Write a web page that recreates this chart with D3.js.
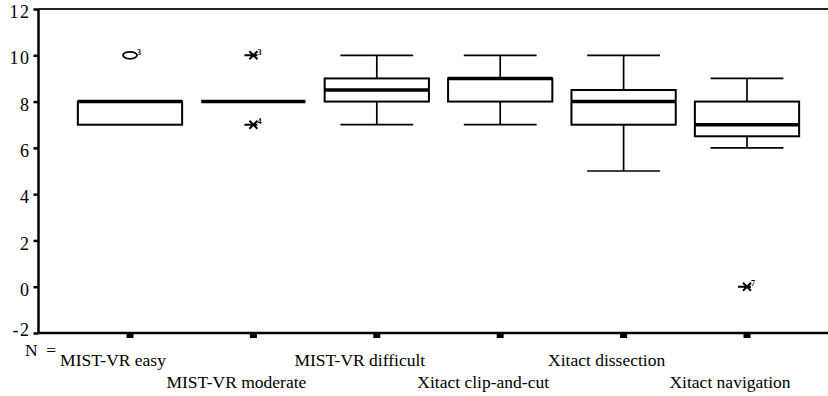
<!DOCTYPE html>
<html>
<head>
<meta charset="utf-8">
<script src="https://cdn.jsdelivr.net/npm/d3@7"></script>
<style>
  html, body { margin: 0; padding: 0; background: #fff; }
  svg { display: block; }
  svg text { font-family: 'Liberation Serif', 'Times New Roman', 'DejaVu Serif', serif; }
</style>
</head>
<body>
<div id="chart"></div>
<script>
// Box plot: scores per simulator task

const categories = ['MIST-VR easy', 'MIST-VR moderate', 'MIST-VR difficult',
    'Xitact clip-and-cut', 'Xitact dissection', 'Xitact navigation'];

// whisker low, Q1, median, Q3, whisker high
const whiskerLow = [7, 8, 7, 7, 5, 6];
const q1 = [7, 8, 8, 8, 7, 6.5];
const medians = [8, 8, 8.5, 9, 8, 7];
const q3 = [8, 8, 9, 9, 8.5, 8];
const whiskerHigh = [8, 8, 10, 10, 10, 9];

// outliers (o) and extremes (*) with case labels
const outliers = [
    { cat: 'MIST-VR easy', value: 10, type: 'o', label: '3' },
    { cat: 'MIST-VR moderate', value: 10, type: '*', label: '3' },
    { cat: 'MIST-VR moderate', value: 7, type: '*', label: '4' },
    { cat: 'Xitact navigation', value: 0, type: '*', label: '7' }
];

const yTicks = [-2, 0, 2, 4, 6, 8, 10, 12];

const width = 828, height = 396;
const serif = "'Liberation Serif', 'Times New Roman', 'DejaVu Serif', serif";

const svg = d3.select('#chart')
    .append('svg')
    .attr('width', width)
    .attr('height', height);

svg.append('rect').attr('width', width).attr('height', height).attr('fill', '#fff');

const y = d3.scaleLinear().domain([-2, 12]).range([333, 9]);
const x = d3.scaleBand().domain(categories).range([68.3, 808.7]).padding(0);

const boxW = x.bandwidth() * 0.845;
const capW = x.bandwidth() * 0.59;
const cx = c => x(c) + x.bandwidth() / 2;

// frame: top line, left axis, bottom axis
svg.append('line').attr('x1', 38.5).attr('x2', width).attr('y1', y(12)).attr('y2', y(12))
    .attr('stroke', '#222').attr('stroke-width', 2);
svg.append('line').attr('x1', 38.5).attr('x2', 38.5).attr('y1', y(12)).attr('y2', y(-2))
    .attr('stroke', '#000').attr('stroke-width', 2.5);
svg.append('line').attr('x1', 38.5).attr('x2', width).attr('y1', y(-2)).attr('y2', y(-2))
    .attr('stroke', '#000').attr('stroke-width', 2.5);

// y axis
const yAxis = d3.axisLeft(y).tickValues(yTicks).tickSize(5).tickPadding(3)
    .tickFormat(d => String(d));
const gy = svg.append('g').attr('transform', 'translate(38.5,0)').call(yAxis);
gy.attr('font-family', serif).attr('font-size', 18);
gy.select('.domain').remove();
gy.selectAll('.tick line').attr('stroke', '#000').attr('stroke-width', 2.5);
gy.selectAll('.tick text')
    .attr('font-family', serif)
    .attr('font-size', 18)
    .attr('letter-spacing', 1.5)
    .attr('fill', '#000')
    // lowest label sits a little above its tick, clear of "N ="
    .attr('dy', d => d === -2 ? '0.12em' : '0.48em');

// category tick marks
svg.append('g').selectAll('rect')
    .data(categories)
    .join('rect')
    .attr('x', d => cx(d) - 3.5)
    .attr('y', y(-2) + 1)
    .attr('width', 7)
    .attr('height', 4)
    .attr('fill', '#000');

// category labels, staggered on two rows
svg.append('g').selectAll('text')
    .data(categories)
    .join('text')
    .attr('x', d => cx(d) - 17)
    .attr('y', (d, i) => i % 2 === 0 ? 366 : 388)
    .attr('text-anchor', 'middle')
    .attr('font-family', serif)
    .attr('font-size', 17.5)
    .attr('fill', '#000')
    .text(d => d);

svg.append('text')
    .attr('x', 25)
    .attr('y', 356)
    .attr('font-family', serif)
    .attr('font-size', 17.5)
    .attr('textLength', 31)
    .attr('fill', '#000')
    .text('N =');

// boxes
const boxes = svg.append('g').selectAll('g')
    .data(categories.map((c, i) => ({
        cat: c, lo: whiskerLow[i], q1: q1[i], med: medians[i], q3: q3[i], hi: whiskerHigh[i]
    })))
    .join('g');

boxes.each(function(d) {
    const g = d3.select(this);
    const c = cx(d.cat);
    if (d.hi > d.q3) {
        g.append('line').attr('x1', c).attr('x2', c).attr('y1', y(d.hi)).attr('y2', y(d.q3))
            .attr('stroke', '#000').attr('stroke-width', 1.7);
        g.append('line').attr('x1', c - capW / 2).attr('x2', c + capW / 2)
            .attr('y1', y(d.hi)).attr('y2', y(d.hi))
            .attr('stroke', '#000').attr('stroke-width', 1.7);
    }
    if (d.lo < d.q1) {
        g.append('line').attr('x1', c).attr('x2', c).attr('y1', y(d.q1)).attr('y2', y(d.lo))
            .attr('stroke', '#000').attr('stroke-width', 1.7);
        g.append('line').attr('x1', c - capW / 2).attr('x2', c + capW / 2)
            .attr('y1', y(d.lo)).attr('y2', y(d.lo))
            .attr('stroke', '#000').attr('stroke-width', 1.7);
    }
    if (d.q3 > d.q1) {
        g.append('rect')
            .attr('x', c - boxW / 2)
            .attr('y', y(d.q3))
            .attr('width', boxW)
            .attr('height', y(d.q1) - y(d.q3))
            .attr('fill', '#fff')
            .attr('stroke', '#000')
            .attr('stroke-width', 2);
    }
    g.append('line')
        .attr('x1', c - boxW / 2).attr('x2', c + boxW / 2)
        .attr('y1', y(d.med)).attr('y2', y(d.med))
        .attr('stroke', '#000').attr('stroke-width', 3.5);
});

// outliers and extremes
const pts = svg.append('g').selectAll('g')
    .data(outliers)
    .join('g')
    .attr('transform', d => `translate(${cx(d.cat)},${y(d.value)})`);

pts.filter(d => d.type === 'o')
    .append('ellipse')
    .attr('rx', 7).attr('ry', 3.5)
    .attr('fill', 'none').attr('stroke', '#000').attr('stroke-width', 1.8);

pts.filter(d => d.type === '*')
    .append('path')
    .attr('d', 'M-9,0H4M-4,-4L4,4M-4,4L4,-4')
    .attr('fill', 'none').attr('stroke', '#000').attr('stroke-width', 2);

pts.append('text')
    .attr('x', d => d.type === 'o' ? 7 : 4)
    .attr('y', -0.5)
    .attr('font-family', serif)
    .attr('font-size', 8)
    .attr('font-weight', 'bold')
    .attr('fill', '#000')
    .text(d => d.label);
</script>
</body>
</html>
